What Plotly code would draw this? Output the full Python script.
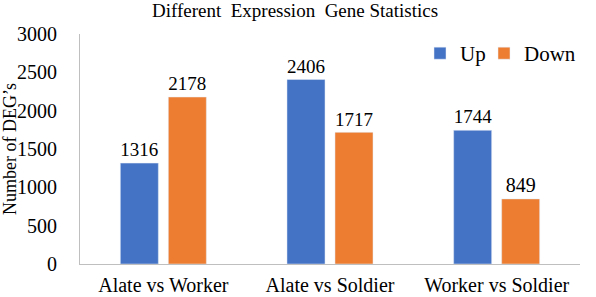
import plotly.graph_objects as go

categories = ["Alate vs Worker", "Alate vs Soldier", "Worker vs Soldier"]
up_values = [1316, 2406, 1744]
down_values = [2178, 1717, 849]
y_ticks = [0, 500, 1000, 1500, 2000, 2500, 3000]

FONT = "Liberation Serif, Times New Roman, serif"

fig = go.Figure()
fig.add_trace(go.Bar(name="Up", x=categories, y=up_values, marker_color="#4472C4",
                     text=up_values, textposition="outside", cliponaxis=False,
                     textfont=dict(size=20, color="#000", family=FONT), legend="legend"))
fig.add_trace(go.Bar(name="Down", x=categories, y=down_values, marker_color="#ED7D31",
                     text=down_values, textposition="outside", cliponaxis=False,
                     textfont=dict(size=20, color="#000", family=FONT), legend="legend2"))

legend_style = dict(orientation="h", xanchor="left", yanchor="middle", y=0.915,
                    font=dict(size=21, family=FONT), bgcolor="rgba(0,0,0,0)",
                    itemwidth=30, tracegroupgap=0)

fig.update_layout(
    width=596, height=297,
    margin=dict(l=80, r=16, t=34, b=33, autoexpand=False),
    paper_bgcolor="white", plot_bgcolor="white",
    barmode="group", bargap=0.424, bargroupgap=0.208,
    font=dict(family=FONT, color="#000", size=20),
    title=dict(text="Different  Expression  Gene Statistics", x=0.495, xanchor="center",
               y=0.966, yanchor="middle", font=dict(size=19, family=FONT, color="#000")),
    legend=dict(x=0.68, **legend_style),
    legend2=dict(x=0.808, **legend_style),
    showlegend=True,
)
fig.update_xaxes(showline=True, linecolor="#BFBFBF", linewidth=1, showgrid=False,
                 ticks="", tickfont=dict(size=20, family=FONT), automargin=False,
                 ticklabelstandoff=3)
fig.update_yaxes(range=[0, 3000], tickvals=y_ticks, showline=True, linecolor="#BFBFBF",
                 linewidth=1, showgrid=False, zeroline=False, ticks="",
                 ticklabelstandoff=18, tickfont=dict(size=20, family=FONT), automargin=False,
                 title=dict(text="Number of DEG\u2019s", font=dict(size=18, family=FONT), standoff=4))

fig.write_html("out.html", config={"displayModeBar": False},
               post_script="document.body.style.margin='0';")
